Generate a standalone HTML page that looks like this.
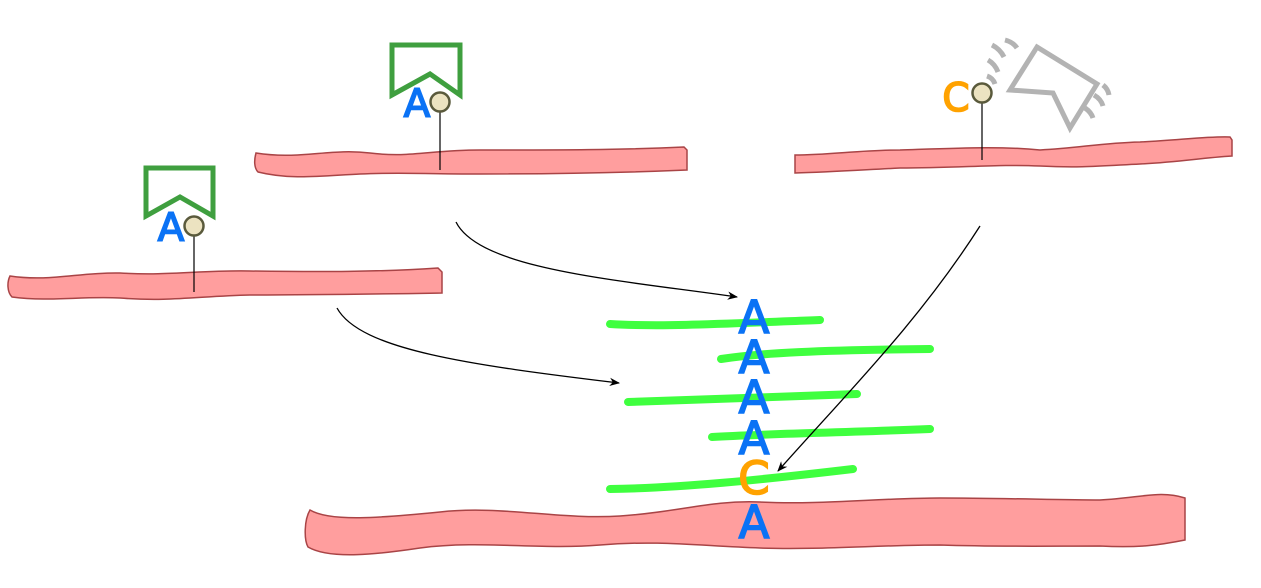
<!DOCTYPE html>
<html><head><meta charset="utf-8"><style>html,body{margin:0;padding:0;background:#fff}svg{display:block}</style></head>
<body>
<svg width="1261" height="588" viewBox="0 0 1261 588" xmlns="http://www.w3.org/2000/svg">
<defs>
<marker id="ah" viewBox="0 0 10 10" refX="9" refY="5" markerWidth="8" markerHeight="8" orient="auto"><path d="M0,1 L10,5 L0,9 L3,5 Z" fill="#000"/></marker>
</defs>
<g fill="#ff9e9e" stroke="#a94446" stroke-width="1.5">
<path d="M256,153 C300,160 330,148 370,153 C410,158 430,150 480,150 C560,150 620,150 684,147 L687,150 L687,170 C640,172 560,174 480,174 C420,174 400,172 360,174 C320,176 290,180 258,172 C254,168 254,160 256,153 Z"/>
<path d="M10,276 C50,282 80,272 120,273 C170,276 200,270 250,271 C320,272 380,272 438,268 L442,272 L442,293 C380,294 320,295 250,295 C200,296 170,302 120,298 C80,296 50,302 12,297 C7,292 7,282 10,276 Z"/>
<path d="M795,155 C830,155 860,150 900,150 C960,148 1000,146 1040,150 C1080,148 1100,143 1140,142 C1180,140 1210,136 1230,137 L1232,140 L1232,156 C1200,158 1180,162 1140,164 C1100,166 1080,168 1040,166 C1000,164 960,168 900,168 C860,170 830,172 795,173 Z"/>
<path d="M310,510 C330,522 380,518 440,512 C500,505 560,520 620,516 C680,512 710,500 760,502 C820,505 880,498 940,498 C1000,498 1060,500 1100,500 C1140,498 1160,490 1185,498 L1185,540 C1160,545 1140,548 1100,546 C1050,546 1000,547 940,545 C880,545 820,550 760,548 C700,546 660,540 600,545 C540,550 480,540 420,548 C380,554 330,560 308,547 C304,540 304,520 310,510 Z"/>
</g>
<g stroke="#3fff3f" stroke-width="8" stroke-linecap="round" fill="none">
<path d="M610,324 C660,327 720,324 820,320"/>
<path d="M721,359 C760,353 820,350 930,349"/>
<path d="M628,402 C700,399 780,397 857,394"/>
<path d="M712,437 C760,434 830,433 930,429"/>
<path d="M610,489 C680,488 760,480 853,469"/>
</g>
<g fill="none" stroke="#3f9f3f" stroke-width="5">
<path d="M392,95 L392,45 L460,45 L460,95 L430,74 Z"/>
<path d="M146,216 L146,168 L213,168 L213,216 L180,197 Z"/>
</g>
<g fill="none" stroke="#b3b3b3" stroke-width="5">
<path d="M1037,47 L1097,84 L1070,128 L1053,93 L1010,90 Z"/>
<path d="M992,45 q8,4 12,12 M988,60 q7,4 10,12 M987,76 q6,2 8,8 M1005,40 q8,2 12,8 M1103,85 q5,4 6,10 M1094,95 q7,4 9,11 M1085,108 q6,4 8,10"/>
</g>
<g stroke="#000" stroke-width="1.2">
<line x1="440" y1="111" x2="440" y2="170"/>
<line x1="194" y1="235" x2="194" y2="292"/>
<line x1="982" y1="102" x2="982" y2="160"/>
</g>
<g fill="#ece3c1" stroke="#5a5a3c" stroke-width="2.5">
<circle cx="440" cy="102" r="9.5"/>
<circle cx="194" cy="226" r="9.5"/>
<circle cx="982" cy="93" r="9.5"/>
</g>
<g fill="none" stroke="#000" stroke-width="1.3" marker-end="url(#ah)">
<path d="M456,222 C480,270 620,280 737,297"/>
<path d="M337,308 C360,350 470,365 619,383"/>
<path d="M980,226 C920,320 850,390 778,471"/>
</g>
<g font-family="'DejaVu Sans','Liberation Sans',sans-serif" font-size="45" text-anchor="middle" stroke-width="1.6">
<text x="417" y="117" fill="#0a72f5" stroke="#0a72f5" font-size="39">A</text>
<text x="171" y="241" fill="#0a72f5" stroke="#0a72f5" font-size="39">A</text>
<text x="956" y="111" fill="#ffa200" stroke="#ffa200" font-size="39">C</text>
<text x="754" y="333" fill="#0a72f5" stroke="#0a72f5">A</text>
<text x="754" y="373" fill="#0a72f5" stroke="#0a72f5">A</text>
<text x="754" y="413" fill="#0a72f5" stroke="#0a72f5">A</text>
<text x="754" y="454" fill="#0a72f5" stroke="#0a72f5">A</text>
<text x="754" y="494" fill="#ffa200" stroke="#ffa200">C</text>
<text x="754" y="538" fill="#0a72f5" stroke="#0a72f5">A</text>
</g>
</svg>
</body></html>
